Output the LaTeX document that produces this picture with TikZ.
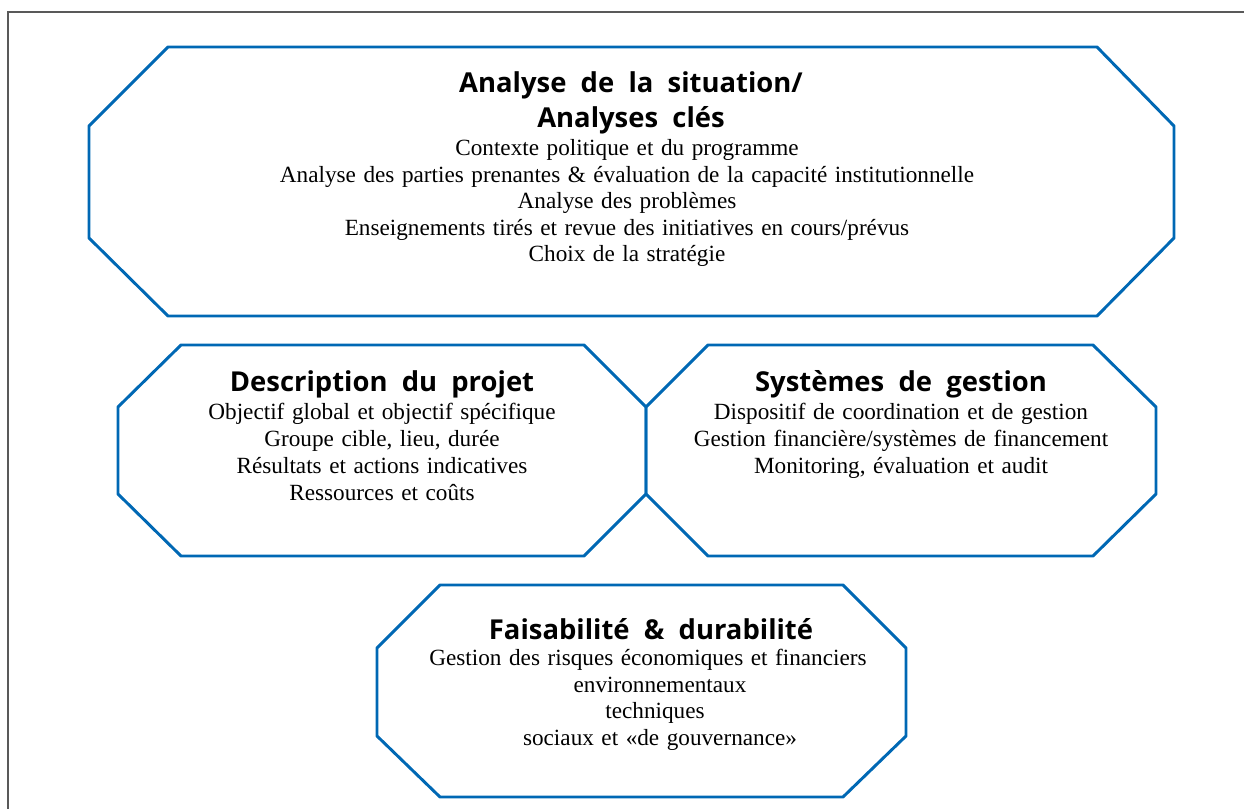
\documentclass[tikz,border=0pt]{standalone}
\usepackage{fontspec}
\setmainfont{Liberation Serif}[WordSpace=1.3]
\newfontfamily\titlefont{Open Sans}[WordSpace=2]
\definecolor{boxblue}{RGB}{0,104,180}

\begin{document}
\begin{tikzpicture}[x=0.025cm, y=-0.025cm]

\useasboundingbox (0,0) rectangle (1244,809);

%% styles
\tikzstyle{frame}=[draw=black!65, line width=0.8pt]
\tikzstyle{octagon}=[draw=boxblue, line width=2.1pt, line join=round]
\tikzstyle{heading}=[font=\titlefont\bfseries\fontsize{19.5}{25}\selectfont, align=center, inner sep=0pt, yshift=-2.5pt]
\tikzstyle{item}=[font=\fontsize{16.5}{19}\selectfont, inner sep=0pt, text height=10.5pt, text depth=3pt, yshift=-1.5pt]

%% page frame
\draw[frame] (8,809) -- (8,12) -- (1244,12);

%% the four octagons
\draw[octagon] (168,47) -- (1097,47) -- (1174,126) -- (1174,238) -- (1097,316) -- (168,316) -- (89,238) -- (89,126) -- cycle;
\draw[octagon] (181,345) -- (584,345) -- (646,407) -- (646,494) -- (584,556) -- (181,556) -- (118,494) -- (118,407) -- cycle;
\draw[octagon] (708,345) -- (1093,345) -- (1156,407) -- (1156,494) -- (1093,556) -- (708,556) -- (646,494) -- (646,407) -- cycle;
\draw[octagon] (440,585) -- (843,585) -- (906,648) -- (906,736) -- (843,797) -- (440,797) -- (377,736) -- (377,648) -- cycle;

% Analyse de la situation
\node[heading] (situation) at (631,99) {Analyse de la situation/\\Analyses clés};
\foreach \i/\y/\txt in {1/148/{Contexte politique et du programme},
2/175/{Analyse des parties prenantes \& évaluation de la capacité institutionnelle},
3/201/{Analyse des problèmes},
4/228/{Enseignements tirés et revue des initiatives en cours/prévus},
5/254/{Choix de la stratégie}}{
\node[item] (situation-\i) at (627,\y) {\txt};}

% Description du projet
\node[heading] (projet) at (382,381) {Description du projet};
\foreach \i/\y/\txt in {1/412/{Objectif global et objectif spécifique},
2/439/{Groupe cible, lieu, durée},
3/466/{Résultats et actions indicatives},
4/493/{Ressources et coûts}}{
\node[item] (projet-\i) at (382,\y) {\txt};}

% Systemes de gestion
\node[heading] (gestion) at (901,381) {Systèmes de gestion};
\foreach \i/\y/\txt in {1/412/{Dispositif de coordination et de gestion},
2/439/{Gestion financière/systèmes de financement},
3/466/{Monitoring, évaluation et audit}}{
\node[item] (gestion-\i) at (901,\y) {\txt};}

% Faisabilite
\node[heading] (faisabilite) at (651,626) {Faisabilité \& durabilité};
\foreach \i/\x/\y/\txt in {1/648/658/{Gestion des risques économiques et financiers},
2/660/685/{environnementaux},
3/655/711/{techniques},
4/660/738/{sociaux et «de gouvernance»}}{
\node[item] (faisabilite-\i) at (\x,\y) {\txt};}

\end{tikzpicture}
\end{document}
